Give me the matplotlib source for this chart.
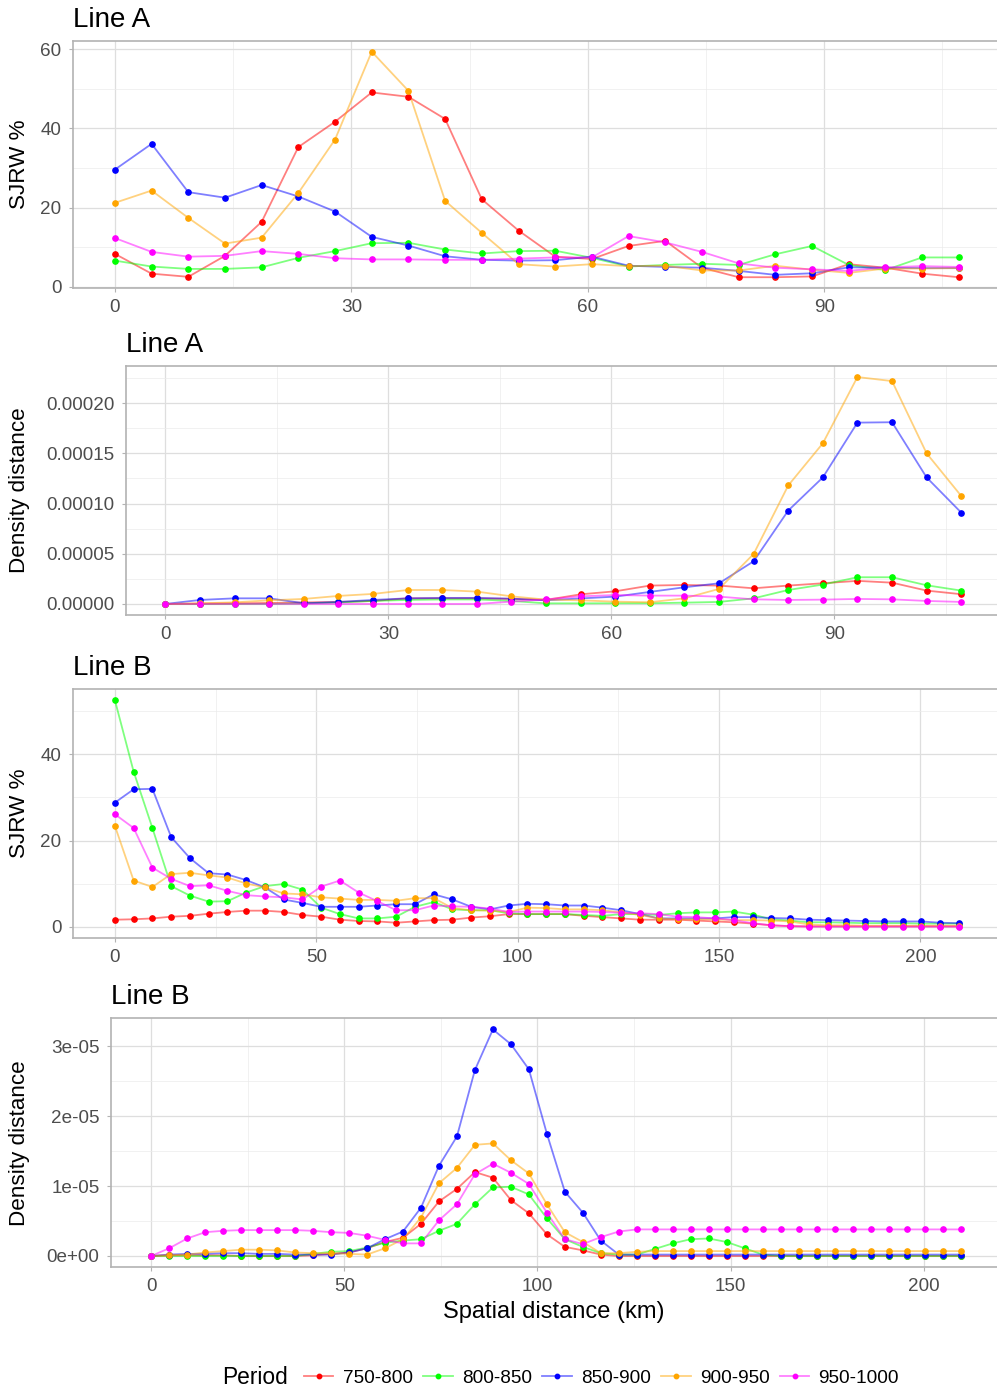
import numpy as np
import matplotlib.pyplot as plt
from matplotlib.lines import Line2D
from matplotlib.colors import to_rgba
from matplotlib.ticker import FixedLocator

plt.rcParams['font.family'] = ['Liberation Sans', 'DejaVu Sans']

W, H = 997, 1391
STEP = 4.656  # bin width (km)

periods = ['750-800', '800-850', '850-900', '900-950', '950-1000']
colors = ['#FF0000', '#00FF00', '#0000FF', '#FFA500', '#FF00FF']

# ---- Line A : SJRW % (24 bins)
dist_a = np.arange(24) * STEP
sjrw_a_750 = [8.3, 3.3, 2.5, 7.8, 16.4, 35.3, 41.7, 49.1, 48.0, 42.4, 22.1, 14.2,
              7.6, 7.0, 10.3, 11.6, 4.8, 2.4, 2.4, 2.6, 5.7, 4.8, 3.3, 2.4]
sjrw_a_800 = [6.6, 5.1, 4.5, 4.5, 4.9, 7.3, 9.0, 11.0, 11.1, 9.4, 8.4, 9.0,
              9.1, 7.3, 5.1, 5.5, 5.8, 5.5, 8.2, 10.3, 5.5, 4.2, 7.4, 7.4]
sjrw_a_850 = [29.6, 36.1, 23.9, 22.5, 25.7, 22.8, 19.0, 12.6, 10.4, 7.7, 6.8, 6.6,
              6.7, 7.6, 5.3, 5.0, 4.8, 4.0, 3.0, 3.4, 4.9, 4.8, 4.7, 4.7]
sjrw_a_900 = [21.2, 24.3, 17.4, 10.9, 12.4, 23.7, 37.2, 59.4, 49.5, 21.7, 13.6, 5.7,
              5.1, 5.7, 5.2, 5.3, 4.1, 4.1, 5.3, 4.3, 3.5, 4.6, 4.6, 4.7]
sjrw_a_950 = [12.3, 8.8, 7.6, 7.8, 9.0, 8.3, 7.2, 6.9, 6.9, 6.8, 6.8, 7.1,
              7.4, 7.4, 12.8, 11.2, 8.8, 5.9, 4.8, 4.4, 4.0, 4.9, 5.2, 5.0]

# ---- Line A : density distance (x 1e-5)
dens_a_750 = [0, 0.03, 0.06, 0.1, 0.15, 0.2, 0.3, 0.56, 0.56, 0.56, 0.5, 0.4,
              0.96, 1.26, 1.83, 1.89, 1.83, 1.56, 1.83, 2.06, 2.3, 2.12, 1.33, 0.97]
dens_a_800 = [0, 0, 0, 0, 0.05, 0.15, 0.3, 0.4, 0.45, 0.45, 0.3, 0.06,
              0.06, 0.07, 0.07, 0.13, 0.2, 0.56, 1.39, 1.93, 2.66, 2.66, 1.86, 1.33]
dens_a_850 = [0, 0.4, 0.56, 0.56, 0.07, 0.2, 0.4, 0.56, 0.6, 0.6, 0.53, 0.36,
              0.55, 0.73, 1.2, 1.66, 2.06, 4.25, 9.3, 12.6, 18.06, 18.1, 12.6, 9.1]
dens_a_900 = [0, 0.07, 0.16, 0.36, 0.5, 0.8, 1.0, 1.39, 1.39, 1.23, 0.76, 0.43,
              0.36, 0.23, 0.17, 0.56, 1.5, 4.98, 11.8, 16.0, 22.6, 22.2, 15.0, 10.76]
dens_a_950 = [0, 0, 0, 0, 0, 0, 0, 0, 0, 0, 0.23, 0.46,
              0.76, 0.89, 0.83, 0.83, 0.73, 0.46, 0.4, 0.43, 0.5, 0.46, 0.3, 0.2]

# ---- Line B : SJRW % (46 bins)
dist_b = np.arange(46) * STEP
sjrw_b_750 = [1.6, 1.7, 1.9, 2.3, 2.5, 3.0, 3.4, 3.7, 3.7, 3.4, 2.7, 2.3, 1.6, 1.3, 1.2, 0.9,
              1.2, 1.5, 1.6, 2.1, 2.4, 2.9, 2.9, 2.9, 2.9, 2.5, 2.2, 1.9, 1.6, 1.6, 1.6,
              1.4, 1.2, 1.0, 0.7, 0.3, 0.1, 0.05, 0.05, 0.05, 0.05, 0.05, 0.05, 0.05, 0.05, 0.05]
sjrw_b_800 = [52.6, 36.0, 22.9, 9.4, 7.2, 5.8, 5.9, 7.9, 9.4, 9.9, 8.6, 4.4, 2.9, 1.9, 1.9, 2.3,
              4.6, 5.7, 4.0, 3.8, 3.8, 3.1, 2.9, 2.9, 2.9, 2.7, 2.5, 2.9, 2.9, 2.7, 3.1,
              3.3, 3.3, 3.5, 2.8, 1.7, 1.4, 1.0, 1.0, 0.9, 0.8, 0.8, 0.8, 0.7, 0.7, 0.7]
sjrw_b_850 = [28.8, 31.9, 32.0, 20.8, 15.9, 12.4, 12.1, 10.8, 9.1, 6.3, 5.5, 4.6, 4.6, 4.6, 4.9, 5.2,
              5.2, 7.5, 6.3, 4.6, 4.0, 4.9, 5.3, 5.2, 4.9, 4.9, 4.4, 3.8, 2.9, 1.9, 1.9,
              1.9, 1.9, 2.2, 2.2, 2.0, 1.9, 1.6, 1.5, 1.4, 1.3, 1.2, 1.2, 1.2, 0.9, 0.8]
sjrw_b_900 = [23.4, 10.7, 9.2, 12.2, 12.5, 11.9, 11.4, 10.0, 9.1, 7.7, 7.5, 6.8, 6.5, 6.2, 6.2, 6.0,
              6.6, 6.6, 4.3, 3.8, 3.7, 3.4, 4.4, 4.3, 4.0, 4.0, 3.8, 3.3, 2.7, 1.9, 1.7,
              1.7, 1.7, 1.5, 1.5, 1.4, 1.2, 0.5, 0.3, 0.3, 0.2, 0.2, 0.2, 0.2, 0.2, 0.2]
sjrw_b_950 = [26.1, 22.9, 13.7, 11.1, 9.4, 9.6, 8.3, 7.3, 7.0, 6.8, 6.3, 9.3, 10.7, 7.9, 5.9, 3.8,
              3.8, 4.9, 4.7, 4.6, 4.2, 3.4, 3.5, 3.5, 3.5, 3.5, 3.4, 3.2, 3.1, 2.9, 2.3,
              2.2, 1.9, 1.5, 0.8, 0.3, 0.1, 0.0, 0.0, 0.0, 0.0, 0.0, 0.0, 0.0, 0.0, 0.0]

# ---- Line B : density distance (x 1e-5)
dens_b_750 = [0, 0.01, 0.01, 0.01, 0.01, 0, 0, 0, 0, 0.01, 0.03, 0.05, 0.11, 0.2, 0.26, 0.46,
              0.78, 0.96, 1.2, 1.12, 0.8, 0.61, 0.31, 0.13, 0.08, 0.02, 0, 0, 0, 0, 0,
              0, 0, 0, 0, 0, 0, 0, 0, 0, 0, 0, 0, 0, 0, 0]
dens_b_800 = [0, 0, 0, 0, 0, 0, 0, 0, 0, 0.03, 0.06, 0.07, 0.12, 0.19, 0.22, 0.24,
              0.36, 0.46, 0.74, 0.98, 0.99, 0.88, 0.54, 0.24, 0.13, 0.04, 0.02, 0.02, 0.1, 0.18, 0.24,
              0.25, 0.2, 0.11, 0.02, 0, 0, 0, 0, 0, 0, 0, 0, 0, 0, 0]
dens_b_850 = [0, 0.02, 0.03, 0.03, 0.04, 0.04, 0.03, 0.03, 0.02, 0.02, 0.02, 0.05, 0.11, 0.24, 0.35, 0.69,
              1.29, 1.71, 2.66, 3.24, 3.03, 2.67, 1.75, 0.92, 0.62, 0.22, 0.02, 0.02, 0.02, 0.02, 0.02,
              0.02, 0.02, 0.02, 0.02, 0.02, 0.02, 0.02, 0.02, 0.02, 0.02, 0.02, 0.02, 0.02, 0.02, 0.02]
dens_b_900 = [0, 0.01, 0.02, 0.05, 0.07, 0.09, 0.09, 0.08, 0.05, 0.04, 0.04, 0.03, 0.02, 0.11, 0.24, 0.55,
              1.04, 1.26, 1.59, 1.61, 1.37, 1.18, 0.74, 0.34, 0.2, 0.04, 0.04, 0.06, 0.07, 0.07, 0.07,
              0.07, 0.07, 0.07, 0.07, 0.07, 0.07, 0.07, 0.07, 0.07, 0.07, 0.07, 0.07, 0.07, 0.07, 0.07]
dens_b_950 = [0, 0.11, 0.25, 0.34, 0.36, 0.37, 0.37, 0.37, 0.37, 0.36, 0.34, 0.33, 0.29, 0.23, 0.18, 0.18,
              0.51, 0.74, 1.17, 1.32, 1.19, 1.03, 0.62, 0.24, 0.17, 0.27, 0.35, 0.38, 0.38, 0.38, 0.38,
              0.38, 0.38, 0.38, 0.38, 0.38, 0.38, 0.38, 0.38, 0.38, 0.38, 0.38, 0.38, 0.38, 0.38, 0.38]

SCALE = 1e-5

BORDER = '#B3B3B3'
GRID = '#DEDEDE'
TICKTXT = '#4D4D4D'
LW = 1.3
MS = 3.8


def rect(l, t, r, b):
    return [l / W, 1 - b / H, (r - l) / W, (b - t) / H]


def draw_panel(ax, x, series, title, xmaj, xmin, ymaj, ymin, ylabels=None):
    # ggplot style: all lines first (semi-transparent), then all points
    for ys, c in zip(series, colors):
        ax.plot(x, ys, color=c, alpha=0.5, lw=LW, zorder=2)
    for ys, c in zip(series, colors):
        ax.plot(x, ys, ls='none', marker='o', ms=MS, color=c, mec=c, zorder=3)
    ax.set_title(title, loc='left', pad=10, fontsize=20)
    ax.set_xticks(xmaj)
    ax.set_yticks(ymaj)
    if ylabels is not None:
        ax.set_yticklabels(ylabels)
    ax.xaxis.set_minor_locator(FixedLocator(xmin))
    ax.yaxis.set_minor_locator(FixedLocator(ymin))
    ax.grid(which='major', color=GRID, lw=0.9, zorder=0)
    ax.grid(which='minor', color='#EBEBEB', lw=0.5, zorder=0)
    ax.set_axisbelow(True)
    ax.tick_params(which='major', direction='out', length=3, width=0.8, color=BORDER,
                   labelsize=13.6, labelcolor=TICKTXT, pad=5)
    ax.tick_params(which='minor', length=0)
    ax.set_xlim(-0.05 * x[-1], 1.05 * x[-1])
    for s in ax.spines.values():
        s.set_color(BORDER)
        s.set_linewidth(1.2)


fig = plt.figure(figsize=(W / 100, H / 100), dpi=100)

ax1 = fig.add_axes(rect(72.7, 41, 1001, 288.3))
draw_panel(ax1, dist_a, [sjrw_a_750, sjrw_a_800, sjrw_a_850, sjrw_a_900, sjrw_a_950],
           'Line A', [0, 30, 60, 90], [15, 45, 75, 105], [0, 20, 40, 60], [10, 30, 50])
ax1.set_ylim(-0.4, 62.1)

ax2 = fig.add_axes(rect(125.7, 365.7, 1001, 615.3))
dens_a = [np.array(s) * SCALE for s in [dens_a_750, dens_a_800, dens_a_850, dens_a_900, dens_a_950]]
draw_panel(ax2, dist_a, dens_a, 'Line A', [0, 30, 60, 90], [15, 45, 75, 105],
           [0, 5e-5, 1e-4, 1.5e-4, 2e-4], [2.5e-5, 7.5e-5, 1.25e-4, 1.75e-4, 2.25e-4],
           ['0.00000', '0.00005', '0.00010', '0.00015', '0.00020'])
ax2.set_ylim(-1.13e-5, 23.73e-5)

ax3 = fig.add_axes(rect(72.7, 689, 1001, 938))
draw_panel(ax3, dist_b, [sjrw_b_750, sjrw_b_800, sjrw_b_850, sjrw_b_900, sjrw_b_950],
           'Line B', [0, 50, 100, 150, 200], [25, 75, 125, 175], [0, 20, 40], [10, 30, 50])
ax3.set_ylim(-2.65, 55.2)

ax4 = fig.add_axes(rect(110.7, 1018.3, 1001, 1267.3))
dens_b = [np.array(s) * SCALE for s in [dens_b_750, dens_b_800, dens_b_850, dens_b_900, dens_b_950]]
draw_panel(ax4, dist_b, dens_b, 'Line B', [0, 50, 100, 150, 200], [25, 75, 125, 175],
           [0, 1e-5, 2e-5, 3e-5], [0.5e-5, 1.5e-5, 2.5e-5],
           ['0e+00', '1e-05', '2e-05', '3e-05'])
ax4.set_ylim(-0.162e-5, 3.40e-5)

# axis labels
fig.text(20 / W, 1 - 164.6 / H, 'SJRW %', rotation=90, ha='center', va='center', fontsize=16.2)
fig.text(20 / W, 1 - 490.5 / H, 'Density distance', rotation=90, ha='center', va='center', fontsize=16.2)
fig.text(20 / W, 1 - 813.5 / H, 'SJRW %', rotation=90, ha='center', va='center', fontsize=16.2)
fig.text(20 / W, 1 - 1142.8 / H, 'Density distance', rotation=90, ha='center', va='center', fontsize=16.2)
fig.text(553.8 / W, 1 - 1312 / H, 'Spatial distance (km)', ha='center', va='center', fontsize=17)

# legend: line half transparent, point opaque
handles = [Line2D([0], [0], color=to_rgba(c, 0.5), lw=LW, marker='o', ms=MS - 0.6,
                  markerfacecolor=c, markeredgecolor=c) for c in colors]
fig.text(222 / W, 1 - 1378 / H, 'Period', ha='left', va='center', fontsize=16.4)
fig.legend(handles, periods, loc='center left', bbox_to_anchor=(304 / W, 1 - 1378 / H),
           ncol=5, frameon=False, fontsize=13.7, handlelength=1.55, handletextpad=0.48,
           columnspacing=0.55, borderpad=0, borderaxespad=0)

fig.savefig('out.png', dpi=100)
